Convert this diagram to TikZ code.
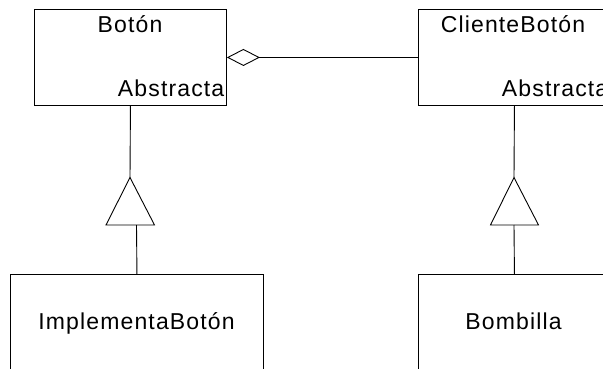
\documentclass[tikz,border=0pt]{standalone}
\usepackage{fontspec}
\setmainfont{Liberation Sans}[LetterSpace=5]
\usetikzlibrary{arrows.meta}
\begin{document}
\begin{tikzpicture}[x=1pt,y=-1pt,line width=0.9pt,
  classbox/.style={draw,rectangle,inner sep=0pt,anchor=north west},
  lbl/.style={inner sep=0pt,font=\fontsize{23}{26}\selectfont},
  agg/.style={-{Diamond[open,length=33pt,width=17pt]}},
  gen/.style={draw,line join=miter}]
  \useasboundingbox (0,0) rectangle (603,369);
  \clip (0,0) rectangle (603,369);

  % class boxes
  \node[classbox,minimum width=192pt,minimum height=96pt] (boton) at (34,9) {};
  \node[classbox,minimum width=192pt,minimum height=96pt] (cliente) at (418,9) {};
  \node[classbox,minimum width=253pt,minimum height=130pt] (impl) at (10,274) {};
  \node[classbox,minimum width=192pt,minimum height=130pt] (bomb) at (418,274) {};

  % class names
  \node[lbl,anchor=base] (tb) at (130,33) {Botón};
  \node[lbl,anchor=base west] (ta) at (117.5,96.5) {Abstracta};
  \node[lbl,anchor=base] (tc) at (513,33) {ClienteBotón};
  \node[lbl,anchor=base west] (tca) at (501.5,96.5) {Abstracta};
  \node[lbl,anchor=base] (ti) at (136.5,329.5) {ImplementaBotón};
  \node[lbl,anchor=base] (tbo) at (513.5,329.5) {Bombilla};

  % aggregation
  \draw[agg] (cliente.west) -- (boton.east);

  % generalisation: left
  \coordinate (apexL) at (130,177.5);
  \coordinate (baseL) at (136.5,225);
  \draw (boton.south) -- (apexL);
  \draw[gen] (apexL) -- (106,225) -- (154.5,225) -- cycle;
  \draw (baseL) -- (impl.north);

  % generalisation: right
  \coordinate (apexR) at (514,177.5);
  \coordinate (baseR) at (514,225);
  \draw (cliente.south) -- (apexR);
  \draw[gen] (apexR) -- (490.5,225) -- (538.5,225) -- cycle;
  \draw (baseR) -- (bomb.north);
\end{tikzpicture}
\end{document}
